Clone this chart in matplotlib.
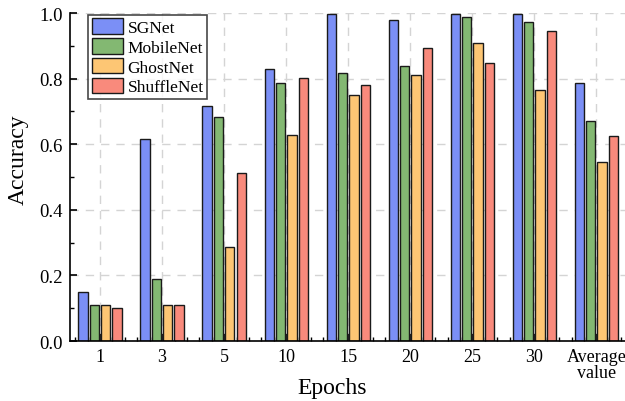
import numpy as np
import matplotlib
matplotlib.use("Agg")
import matplotlib.pyplot as plt
from matplotlib.ticker import MultipleLocator

plt.rcParams['font.family'] = ['Liberation Serif', 'DejaVu Serif']

epochs = ['1', '3', '5', '10', '15', '20', '25', '30', 'Average\nvalue']
sgnet = [0.150, 0.616, 0.717, 0.831, 0.998, 0.980, 0.997, 0.997, 0.786]
mobilenet = [0.110, 0.189, 0.682, 0.786, 0.817, 0.839, 0.987, 0.973, 0.671]
ghostnet = [0.110, 0.110, 0.287, 0.628, 0.751, 0.810, 0.909, 0.764, 0.546]
shufflenet = [0.100, 0.110, 0.512, 0.803, 0.780, 0.893, 0.848, 0.944, 0.625]

models = ['SGNet', 'MobileNet', 'GhostNet', 'ShuffleNet']
colors = ['#7b8ff6', '#83b872', '#fdc674', '#f98a7c']

fig = plt.figure(figsize=(6.25, 4.02), dpi=100)
ax = fig.add_axes([0.112, 0.149, 0.892, 0.816])

x = np.arange(len(epochs))
step = 0.183
width = 0.15
for i, (vals, name, c) in enumerate(zip([sgnet, mobilenet, ghostnet, shufflenet], models, colors)):
    ax.bar(x + (i - 1.5) * step, vals, width, color=c, edgecolor='#1a1a1a',
           linewidth=1.0, label=name)

ax.set_xlim(-0.484, 8.5)
ax.set_ylim(0, 1.0)
ax.set_xticks(x)
ax.set_xticklabels(epochs, fontsize=13, linespacing=0.9)
ax.set_yticks(np.arange(0, 1.01, 0.2))
ax.set_yticklabels(['%.1f' % v for v in np.arange(0, 1.01, 0.2)], fontsize=13.5)
ax.xaxis.set_minor_locator(MultipleLocator(0.2))
ax.yaxis.set_minor_locator(MultipleLocator(0.1))
ax.tick_params(which='major', direction='in', length=5, width=1.2, pad=5)
ax.tick_params(which='minor', direction='in', length=3, width=1.0)

ax.set_axisbelow(True)
ax.grid(True, which='major', linestyle=(0, (6, 5)), color='#d4d4d4', linewidth=1.0)

for s in ['top', 'right']:
    ax.spines[s].set_visible(False)
for s in ['left', 'bottom']:
    ax.spines[s].set_linewidth(1.2)

ax.set_xlabel('Epochs', fontsize=17, va='center')
ax.xaxis.set_label_coords(0.47, -0.14)
ax.set_ylabel('Accuracy', fontsize=17, va='center')
ax.yaxis.set_label_coords(-0.093, 0.555)

leg = ax.legend(loc='upper left', bbox_to_anchor=(0.03, 1.0), fontsize=12.5,
                frameon=True, fancybox=False, edgecolor='#1a1a1a',
                handlelength=1.8, handleheight=1.0, handletextpad=0.25,
                labelspacing=0.12, borderpad=0.2, borderaxespad=0.1)
leg.get_frame().set_linewidth(1.2)

fig.savefig('out.png', dpi=100)
